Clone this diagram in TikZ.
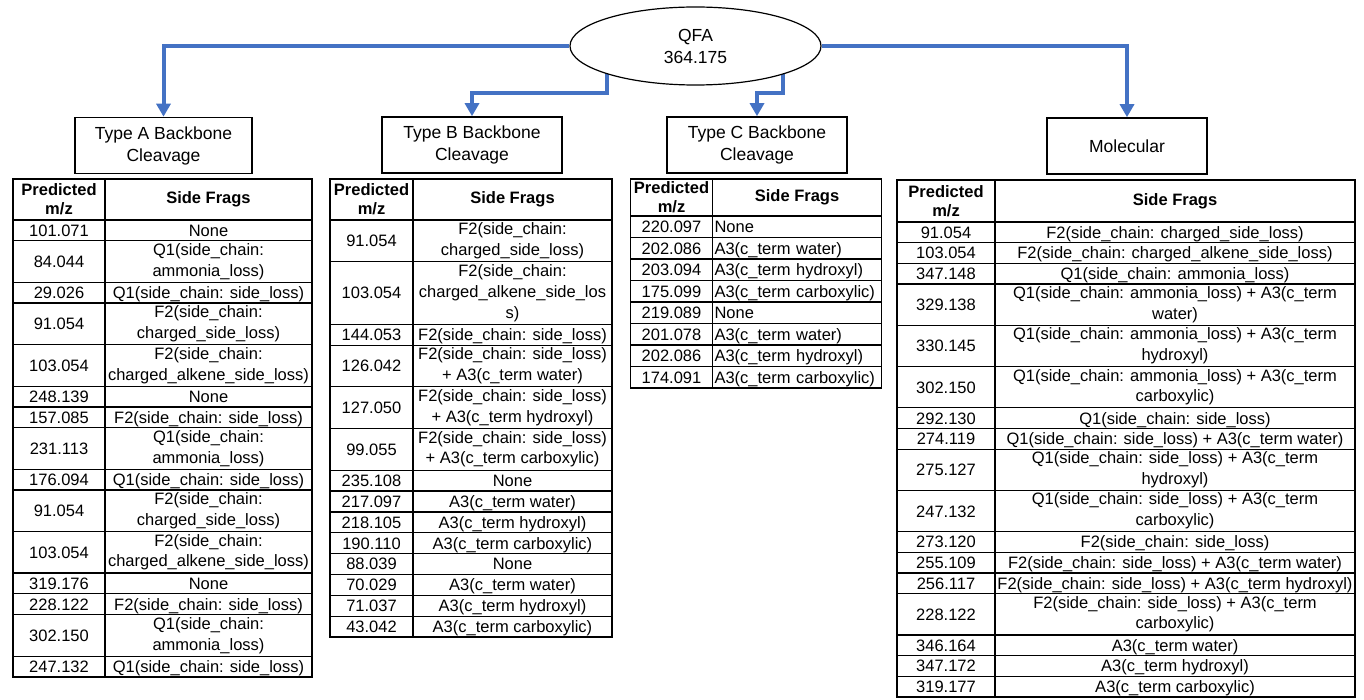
\documentclass[tikz,border=0pt]{standalone}
\usepackage{fontspec}
\setmainfont{Liberation Sans}
\usepackage{tikz}
\usetikzlibrary{arrows.meta,shapes.geometric,positioning,backgrounds}
\definecolor{flowblue}{RGB}{68,114,196}
\newcommand{\cellup}{\rule{0pt}{15.3pt}}
\newcommand{\celldown}{\rule[-3.5pt]{0pt}{3.5pt}}

\begin{document}
\begin{tikzpicture}[
        x=1pt,y=1pt,
        flow/.style={draw=flowblue,line width=4pt,
                     -{Triangle[width=14pt,length=13pt]}},
        root/.style={draw,ellipse,fill=white,line width=1.2pt,
                     minimum width=251pt,minimum height=78pt,inner sep=0pt,
                     align=center,font=\fontsize{17.5}{22}\selectfont},
        branch/.style={draw,line width=1.6pt,minimum height=56pt,
                     align=center,font=\fontsize{17.5}{22}\selectfont},
        grid/.style={draw,line width=1.2pt,inner xsep=1pt,inner ysep=0pt,
                     outer sep=0pt,align=center},
        head/.style={grid,font=\fontsize{16.5}{19}\bfseries\selectfont},
        cell/.style={grid,font=\fontsize{16.5}{20.8}\selectfont,
                     execute at begin node=\cellup,
                     execute at end node=\celldown},
        leftcell/.style={cell,text width=165pt,inner xsep=2pt,align=left},
        frame/.style={line width=1.8pt},
      ]
        \useasboundingbox (0,0) rectangle (1364,-700);

        % root and the four branches
        \node[root] (qfa) at (695.5,-46) {QFA\\364.175};
        \node[branch,minimum width=177pt] (typeA) at (163.5,-145.5)
          {Type A Backbone\\Cleavage};
        \node[branch,minimum width=180pt] (typeB) at (472,-145)
          {Type B Backbone\\Cleavage};
        \node[branch,minimum width=180pt] (typeC) at (757,-145)
          {Type C Backbone\\Cleavage};
        \node[branch,minimum width=160pt] (mol) at (1127,-146) {Molecular};

        \begin{scope}[on background layer]
          \draw[flow] (qfa.west) -| (typeA.north);
          \draw[flow] ([xshift=-89pt]qfa.center) |- ([yshift=23pt]typeB.north)
            -- (typeB.north);
          \draw[flow] ([xshift=87pt]qfa.center) |- ([yshift=23pt]typeC.north)
            -- (typeC.north);
          \draw[flow] (qfa.east) -| (mol.north);
        \end{scope}

        % table A
        \node[head,minimum width=92pt,minimum height=41pt,anchor=north west]
          (a0) at (13,-179) {Predicted\\m/z};
        \node[head,minimum width=207pt,minimum height=41pt,right=0pt of a0]
          (af0) {Side Frags};
        \foreach \mz/\n/\frag [count=\i,remember=\i as \j (initially 0)] in {
            101.071/1/None,
            84.044/2/Q1(side\_chain:\\ammonia\_loss),
            29.026/1/Q1(side\_chain: side\_loss),
            91.054/2/F2(side\_chain:\\charged\_side\_loss),
            103.054/2/F2(side\_chain:\\charged\_alkene\_side\_loss),
            248.139/1/None,
            157.085/1/F2(side\_chain: side\_loss),
            231.113/2/Q1(side\_chain:\\ammonia\_loss),
            176.094/1/Q1(side\_chain: side\_loss),
            91.054/2/F2(side\_chain:\\charged\_side\_loss),
            103.054/2/F2(side\_chain:\\charged\_alkene\_side\_loss),
            319.176/1/None,
            228.122/1/F2(side\_chain: side\_loss),
            302.150/2/Q1(side\_chain:\\ammonia\_loss),
            247.132/1/Q1(side\_chain: side\_loss)}{
          \node[cell,minimum width=92pt,minimum height=\n*20.77pt,
            below=0pt of a\j] (a\i) {\mz};
          \node[cell,minimum width=207pt,minimum height=\n*20.77pt,
            right=0pt of a\i] (af\i) {\frag};
        }
        \draw[frame] (a0.north west) rectangle (af15.south east);

        % table B
        \node[head,minimum width=83pt,minimum height=41pt,anchor=north west]
          (b0) at (330,-179) {Predicted\\m/z};
        \node[head,minimum width=199pt,minimum height=41pt,right=0pt of b0]
          (bf0) {Side Frags};
        \foreach \mz/\n/\frag [count=\i,remember=\i as \j (initially 0)] in {
            91.054/2/F2(side\_chain:\\charged\_side\_loss),
            103.054/3/F2(side\_chain:\\charged\_alkene\_side\_los\\s),
            144.053/1/F2(side\_chain: side\_loss),
            126.042/2/F2(side\_chain: side\_loss)\\+ A3(c\_term water),
            127.050/2/F2(side\_chain: side\_loss)\\+ A3(c\_term hydroxyl),
            99.055/2/F2(side\_chain: side\_loss)\\+ A3(c\_term carboxylic),
            235.108/1/None,
            217.097/1/A3(c\_term water),
            218.105/1/A3(c\_term hydroxyl),
            190.110/1/A3(c\_term carboxylic),
            88.039/1/None,
            70.029/1/A3(c\_term water),
            71.037/1/A3(c\_term hydroxyl),
            43.042/1/A3(c\_term carboxylic)}{
          \node[cell,minimum width=83pt,minimum height=\n*20.85pt,
            below=0pt of b\j] (b\i) {\mz};
          \node[cell,minimum width=199pt,minimum height=\n*20.85pt,
            right=0pt of b\i] (bf\i) {\frag};
        }
        \draw[frame] (b0.north west) rectangle (bf14.south east);

        % table C
        \node[head,minimum width=82pt,minimum height=37pt,anchor=north west]
          (c0) at (630.5,-179) {Predicted\\m/z};
        \node[head,minimum width=169pt,minimum height=37pt,right=0pt of c0]
          (cf0) {Side Frags};
        \foreach \mz/\frag [count=\i,remember=\i as \j (initially 0)] in {
            220.097/None,
            202.086/A3(c\_term water),
            203.094/A3(c\_term hydroxyl),
            175.099/A3(c\_term carboxylic),
            219.089/None,
            201.078/A3(c\_term water),
            202.086/A3(c\_term hydroxyl),
            174.091/A3(c\_term carboxylic)}{
          \node[cell,minimum width=82pt,minimum height=21.5pt,
            below=0pt of c\j] (c\i) {\mz};
          \node[leftcell,minimum width=169pt,minimum height=21.5pt,
            right=0pt of c\i] (cf\i) {\frag};
        }
        \draw[frame] (c0.north west) rectangle (cf8.south east);

        % table molecular
        \node[head,minimum width=98pt,minimum height=42pt,anchor=north west]
          (m0) at (897,-180) {Predicted\\m/z};
        \node[head,minimum width=360pt,minimum height=42pt,right=0pt of m0]
          (mf0) {Side Frags};
        \foreach \mz/\n/\frag [count=\i,remember=\i as \j (initially 0)] in {
            91.054/1/F2(side\_chain: charged\_side\_loss),
            103.054/1/F2(side\_chain: charged\_alkene\_side\_loss),
            347.148/1/Q1(side\_chain: ammonia\_loss),
            329.138/2/Q1(side\_chain: ammonia\_loss) + A3(c\_term\\water),
            330.145/2/Q1(side\_chain: ammonia\_loss) + A3(c\_term\\hydroxyl),
            302.150/2/Q1(side\_chain: ammonia\_loss) + A3(c\_term\\carboxylic),
            292.130/1/Q1(side\_chain: side\_loss),
            274.119/1/Q1(side\_chain: side\_loss) + A3(c\_term water),
            275.127/2/Q1(side\_chain: side\_loss) + A3(c\_term\\hydroxyl),
            247.132/2/Q1(side\_chain: side\_loss) + A3(c\_term\\carboxylic),
            273.120/1/F2(side\_chain: side\_loss),
            255.109/1/F2(side\_chain: side\_loss) + A3(c\_term water),
            256.117/1/F2(side\_chain: side\_loss) + A3(c\_term hydroxyl),
            228.122/2/F2(side\_chain: side\_loss) + A3(c\_term\\carboxylic),
            346.164/1/A3(c\_term water),
            347.172/1/A3(c\_term hydroxyl),
            319.177/1/A3(c\_term carboxylic)}{
          \node[cell,minimum width=98pt,minimum height=\n*20.65pt,
            below=0pt of m\j] (m\i) {\mz};
          \node[cell,minimum width=360pt,minimum height=\n*20.65pt,
            right=0pt of m\i] (mf\i) {\frag};
        }
        \draw[frame] (m0.north west) rectangle (mf17.south east);
      \end{tikzpicture}
\end{document}
